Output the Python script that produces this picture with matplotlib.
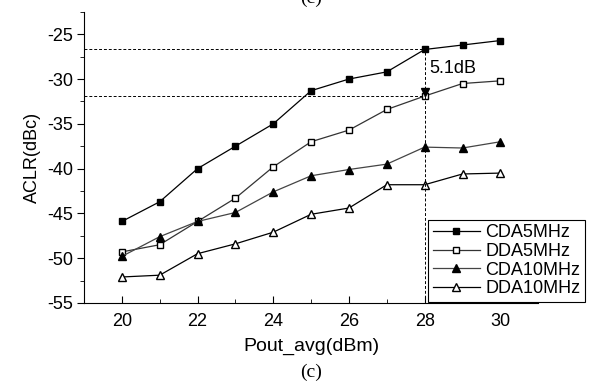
import matplotlib
matplotlib.use("Agg")
import matplotlib.pyplot as plt
from matplotlib.ticker import MultipleLocator

plt.rcParams['font.family'] = ['Liberation Sans', 'DejaVu Sans']
plt.rcParams['axes.unicode_minus'] = False

pout = [20, 21, 22, 23, 24, 25, 26, 27, 28, 29, 30]
cda5 = [-45.9, -43.7, -40.0, -37.5, -35.0, -31.3, -30.0, -29.2, -26.7, -26.2, -25.7]
dda5 = [-49.3, -48.5, -45.9, -43.3, -39.8, -37.0, -35.7, -33.4, -31.9, -30.5, -30.2]
cda10 = [-49.8, -47.6, -45.9, -44.9, -42.6, -40.8, -40.1, -39.5, -37.6, -37.7, -37.0]
dda10 = [-52.1, -51.9, -49.5, -48.4, -47.1, -45.1, -44.4, -41.8, -41.8, -40.6, -40.5]
labels = ['CDA5MHz', 'DDA5MHz', 'CDA10MHz', 'DDA10MHz']
ann_x = 28
ann_hi = -26.7
ann_lo = -31.9
ann_text = '5.1dB'

fig = plt.figure(figsize=(5.98, 3.83), dpi=100)
ax = fig.add_axes([0.1405, 0.209, 0.7595, 0.760])

fs = 13
ms = 5
ax.plot(pout, cda5, '-', color='black', lw=0.9, marker='s', ms=ms, mfc='black', mec='black', label=labels[0])
ax.plot(pout, dda5, '-', color='#333333', lw=0.9, marker='s', ms=ms, mfc='white', mec='black', label=labels[1])
ax.plot(pout, cda10, '-', color='#444444', lw=0.9, marker='^', ms=ms + 1, mfc='black', mec='black', label=labels[2])
ax.plot(pout, dda10, '-', color='black', lw=0.9, marker='^', ms=ms + 1, mfc='white', mec='black', label=labels[3])

# annotation dashed lines
ax.plot([19, ann_x], [ann_hi, ann_hi], ls=(0, (3, 2)), color='black', lw=0.7)
ax.plot([19, ann_x], [ann_lo, ann_lo], ls=(0, (3, 2)), color='black', lw=0.7)
ax.plot([ann_x, ann_x], [-55, ann_hi], ls=(0, (3, 2)), color='black', lw=0.7)
ax.plot([ann_x], [ann_lo + 0.45], marker='v', color='black', ms=6)
ax.text(ann_x + 0.12, -28.8, ann_text, fontsize=fs, va='center', ha='left')

ax.set_xlim(19, 31)
ax.set_ylim(-55, -22.5)
ax.xaxis.set_major_locator(MultipleLocator(2))
ax.xaxis.set_minor_locator(MultipleLocator(1))
ax.yaxis.set_major_locator(MultipleLocator(5))
ax.yaxis.set_minor_locator(MultipleLocator(2.5))
ax.set_xticks([20, 22, 24, 26, 28, 30])
ax.set_yticks([-55, -50, -45, -40, -35, -30, -25])
ax.spines['top'].set_visible(False)
ax.spines['right'].set_visible(False)
ax.tick_params(axis='x', which='both', direction='in', labelsize=fs, pad=7)
ax.tick_params(axis='x', which='major', length=5)
ax.tick_params(axis='x', which='minor', length=3)
ax.tick_params(axis='y', which='both', direction='out', labelsize=fs, pad=3)
ax.tick_params(axis='y', which='major', length=5)
ax.tick_params(axis='y', which='minor', length=3)

ax.set_xlabel('Pout_avg(dBm)', fontsize=14, labelpad=6)
ax.set_ylabel('ACLR(dBc)', fontsize=fs, labelpad=4)

leg = ax.legend(loc='lower right', bbox_to_anchor=(585 / 598, 81 / 383),
                bbox_transform=fig.transFigure, fontsize=fs, frameon=True,
                fancybox=False, edgecolor='black', framealpha=1,
                handlelength=2.6, handletextpad=0.3, labelspacing=0.1,
                borderpad=0.25, borderaxespad=0)
leg.get_frame().set_linewidth(0.8)

fig.text(0.52, 0.027, '(c)', fontsize=14, ha='center', va='center', family='Liberation Serif')
fig.text(0.52, 1.005, '(c)', fontsize=14, ha='center', va='center', family='Liberation Serif')

fig.savefig('out.png', dpi=100)
